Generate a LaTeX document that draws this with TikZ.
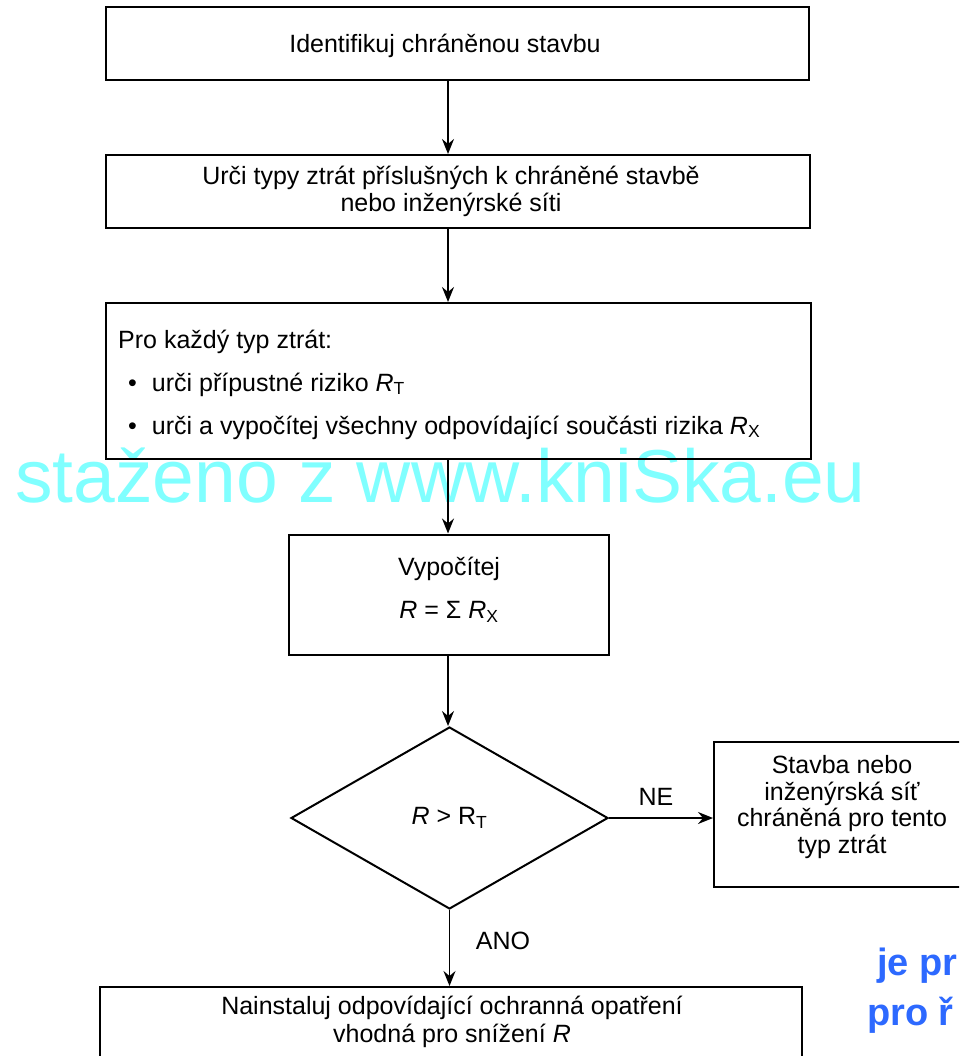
\documentclass[tikz,border=0pt]{standalone}
\usepackage{fontspec}
\setmainfont{Liberation Sans}
\usetikzlibrary{shapes.geometric,arrows.meta}
\definecolor{wmcyan}{RGB}{128,255,255}
\definecolor{wmblue}{RGB}{45,105,255}
\begin{document}
\begin{tikzpicture}[x=1pt,y=-1pt,
  box/.style={draw, line width=2pt, inner sep=0pt, align=center, font=\fontsize{25}{27}\selectfont},
  arr/.style={line width=1.8pt, -{Stealth[length=15pt,width=12pt,inset=5pt]}},
  lbl/.style={inner sep=0pt, font=\fontsize{25}{27}\selectfont}]
\useasboundingbox (0,0) rectangle (959,1056);
\begin{scope}
\clip (0,0) rectangle (959,1056);
% watermark
\node[inner sep=0pt, anchor=base west, text=wmcyan, font=\fontsize{75}{75}\selectfont] (wm) at (15,502) {staženo z www.kniSka.eu};
% boxes
\node[box, minimum width=703pt, minimum height=73pt] (b1) at (457.5,43.5) {};
\node[lbl] (t1) at (445,46) {Identifikuj chráněnou stavbu};
\node[box, minimum width=704pt, minimum height=73pt] (b2) at (458,191.5) {};
\node[lbl, align=center] (t2) at (451,191) {Urči typy ztrát příslušných k chráněné stavbě\\nebo inženýrské síti};
\node[box, minimum width=705pt, minimum height=156pt] (b3) at (458.5,381) {};
\node[lbl, anchor=base west] (t3a) at (118,348) {Pro každý typ ztrát:};
\node[lbl, anchor=base west] (t3b) at (128,391) {•\hspace{15pt}urči přípustné riziko \textit{R}\textsubscript{T}};
\node[lbl, anchor=base west] (t3c) at (128,434) {•\hspace{15pt}urči a vypočítej všechny odpovídající součásti rizika \textit{R}\textsubscript{X}};
\node[box, minimum width=320pt, minimum height=120pt] (b4) at (449,594.5) {};
\node[lbl, align=center] (t4) at (449,590) {Vypočítej\\[16pt]\textit{R} = Σ \textit{R}\textsubscript{X}};
\node[diamond, draw, line width=2pt, inner sep=0pt, minimum width=317pt, minimum height=182pt, font=\fontsize{25}{27}\selectfont] (d) at (449.5,818) {\textit{R} > R\textsubscript{T}};
\node[box, minimum width=261pt, minimum height=145pt] (r) at (844.5,814.5) {};
\node[lbl, align=center, font=\fontsize{25}{26.5}\selectfont] (rt) at (842,807) {Stavba nebo\\inženýrská síť\\chráněná pro tento\\typ ztrát};
\node[box, minimum width=702pt, minimum height=83pt] (b5) at (451,1028.5) {};
\node[lbl, align=center, font=\fontsize{25}{28}\selectfont] (t5) at (452,1022) {Nainstaluj odpovídající ochranná opatření\\vhodná pro snížení \textit{R}};
% connectors
\coordinate (ax) at (448,0);
\draw[arr] (b1.south -| ax) -- (b2.north -| ax);
\draw[arr] (b2.south -| ax) -- (b3.north -| ax);
\draw[arr] (b3.south -| ax) -- (b4.north -| ax);
\draw[arr] (b4.south -| ax) -- (d.north -| ax);
\draw[arr] (d.east) -- (d.east -| r.west);
\draw[arr] (d.south) -- (b5.north -| d.south);
\node[lbl] (ne) at (656,797) {NE};
\node[lbl] (ano) at (503,941) {ANO};
% blue cut text
\node[inner sep=0pt, anchor=base west, text=wmblue, font=\bfseries\fontsize{38}{38}\selectfont] (bl1) at (877,975) {je pr};
\node[inner sep=0pt, anchor=base west, text=wmblue, font=\bfseries\fontsize{38}{38}\selectfont] (bl2) at (867,1025) {pro ř};
\end{scope}
\end{tikzpicture}
\end{document}
